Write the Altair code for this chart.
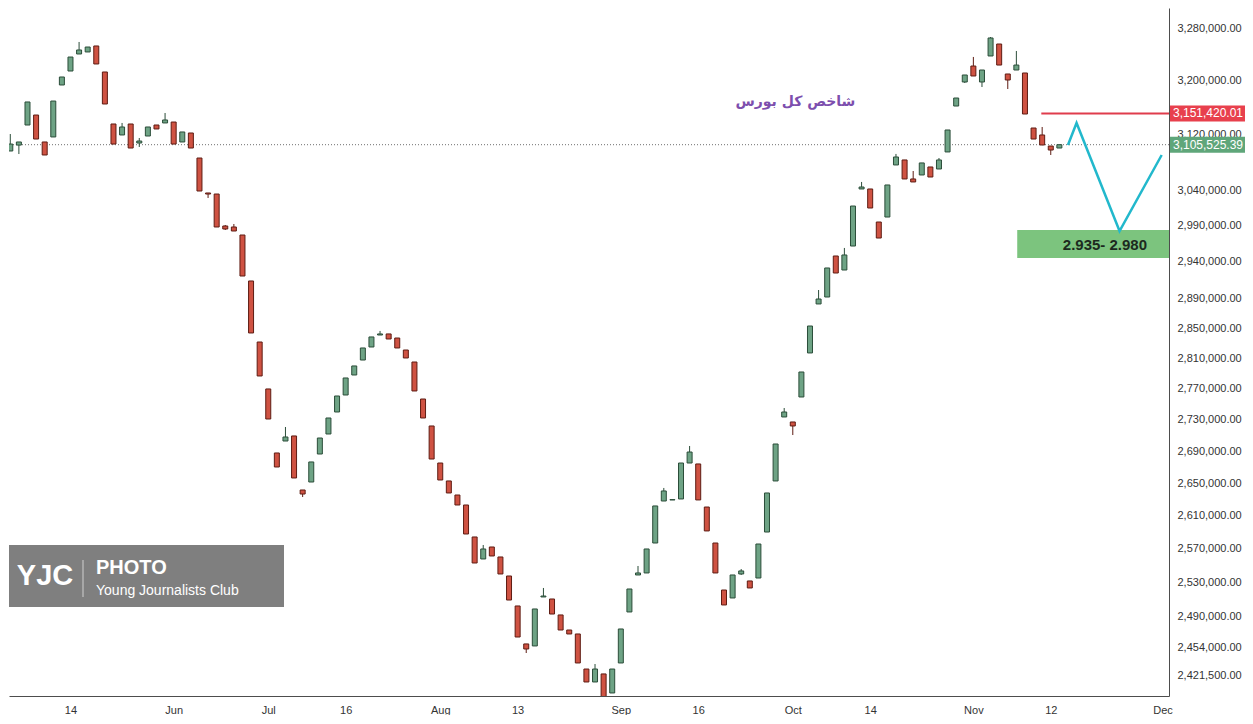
import altair as alt
import pandas as pd

# ---------------- data ----------------
opens = [
    3092000, 3096400, 3105000, 3134300, 3149000, 3109500, 3116800, 3193600, 3214600, 3240300,
    3243400, 3252500, 3213100, 3135800, 3119700, 3135800, 3108000, 3118200, 3134300, 3137300,
    3138700, 3109500, 3122600, 3086200, 3036100, 3034600, 2989500, 2988100, 2976900, 2913500,
    2831400, 2769800, 2688000, 2703100, 2709500, 2641800, 2651700, 2686700, 2712000, 2740100,
    2762000, 2788000, 2807600, 2824800, 2840700, 2842100, 2836700, 2820800, 2805000, 2756800,
    2722200, 2675400, 2653000, 2635600, 2623300, 2584300, 2557800, 2572200, 2560200, 2537500,
    2502100, 2458000, 2455700, 2512700, 2510300, 2491600, 2474100, 2469500, 2429300, 2414600,
    2423700, 2402200, 2436200, 2495100, 2538700, 2541100, 2577000, 2628200, 2629500, 2630700,
    2675400, 2674200, 2620800, 2577000, 2520900, 2511500, 2539900, 2531600, 2535100, 2590300,
    2653000, 2733700, 2727300, 2759400, 2816900, 2882300, 2891700, 2947800, 2928500, 2961600,
    3041800, 3041800, 2995100, 3002100, 3076200, 3083400, 3056100, 3061800, 3073300, 3070400,
    3095000, 3162300, 3198100, 3222100, 3198100, 3237300, 3255500, 3210100, 3216100, 3211600,
    3129900, 3119700, 3103600, 3100700,
]
closes = [
    3086200, 3106500, 3109500, 3168300, 3113800, 3090600, 3169700, 3205600, 3235700, 3246400,
    3250900, 3225200, 3165300, 3106500, 3131400, 3100700, 3110900, 3131400, 3128500, 3141700,
    3106500, 3124100, 3100700, 3038900, 3034600, 2988100, 2985300, 2982500, 2920300, 2843400,
    2786700, 2731100, 2670400, 2708200, 2656700, 2636800, 2676700, 2706900, 2732400, 2760700,
    2784100, 2799800, 2823500, 2838100, 2842100, 2835400, 2823500, 2810300, 2767200, 2732400,
    2680400, 2654200, 2638100, 2623300, 2587900, 2553000, 2569800, 2561400, 2539900, 2509100,
    2466000, 2452200, 2498600, 2513800, 2492700, 2474100, 2469500, 2436200, 2414600, 2429300,
    2393000, 2429300, 2475300, 2522100, 2541100, 2569800, 2622100, 2640600, 2629900, 2675400,
    2689200, 2629500, 2591600, 2541100, 2503300, 2538700, 2543500, 2523300, 2575800, 2638100,
    2699300, 2740100, 2722200, 2791900, 2852700, 2889000, 2931300, 2924400, 2949200, 3017600,
    3044600, 3014800, 2972700, 3047500, 3087700, 3056100, 3051800, 3079100, 3058900, 3083400,
    3127000, 3174200, 3208600, 3207100, 3216100, 3264700, 3223600, 3201100, 3223600, 3150500,
    3113800, 3105100, 3097800, 3105525.39,
]
# candles that show a visible wick beyond the body
wick_highs = {1: 3121100, 9: 3258600, 14: 3137300, 16: 3115300, 19: 3152000, 26: 2990900,
              27: 2992300, 33: 2720900, 44: 2846100, 56: 2574600, 63: 2523300, 69: 2435000,
              74: 2549400, 77: 2644300, 80: 2696800, 86: 2545800, 91: 2745200, 95: 2901200,
              98: 2958900, 100: 3051800, 104: 3092100, 106: 3067500, 109: 3086200,
              113: 3235800, 115: 3266200, 118: 3244900, 121: 3131400}
wick_lows = {2: 3092000, 16: 3102200, 24: 3029000, 26: 2983900, 35: 2633100, 61: 2447600,
             86: 2538700, 92: 2710700, 112: 3196600, 114: 3190600, 117: 3187600, 122: 3090600}

y_ticks = [3280000, 3200000, 3120000, 3040000, 2990000, 2940000, 2890000, 2850000,
           2810000, 2770000, 2730000, 2690000, 2650000, 2610000, 2570000, 2530000,
           2490000, 2454000, 2421500]
x_tick_pos = [8, 20, 31, 40, 51, 60, 72, 81, 92, 101, 113, 122, 135]
x_tick_text = ["14", "Jun", "Jul", "16", "Aug", "13", "Sep", "16", "Oct", "14", "Nov", "12", "Dec"]

last_price = 3105525.39
resistance = 3151420.01
resistance_start = 120.9
zone_start = 118.1
zone_low, zone_high = 2945000, 2983900
zone_text = "2.935- 2.980"
zone_text_pos = (128.3, 2963000)
zig_idx = [124, 125, 130, 134.9]
zig_val = [3105100, 3137250, 2982500, 3090570]
title_text = "شاخص کل بورس"
title_pos = (92.3, 3168250)

# ---------------- layout ----------------
W, H = 1160, 688
X_DOMAIN = [0.85, 135.75]
Y_DOMAIN = [2398800, 3310870]
GREEN, RED = "#6ea385", "#cf5242"
GREEN_EDGE, RED_EDGE = "#2b4d39", "#5e1c13"

rows = []
for i, (o, c) in enumerate(zip(opens, closes)):
    rows.append({
        "idx": i, "open": o, "close": c,
        "high": max(o, c, wick_highs.get(i, 0)),
        "low": min(o, c, wick_lows.get(i, 10**9)),
        "dir": "up" if c >= o else "down",
    })
candles = pd.DataFrame(rows)

xs = alt.Scale(domain=X_DOMAIN, nice=False, zero=False, padding=0)
ys = alt.Scale(type="log", domain=Y_DOMAIN, nice=False, padding=0)
dir_stroke = alt.Stroke("dir:N", scale=alt.Scale(domain=["up", "down"], range=[GREEN_EDGE, RED_EDGE]), legend=None)
dir_fill = alt.Fill("dir:N", scale=alt.Scale(domain=["up", "down"], range=[GREEN, RED]), legend=None)

label_expr = "[" + ",".join("'%s'" % t for t in x_tick_text) + "][indexof([" + \
    ",".join(str(p) for p in x_tick_pos) + "], datum.value)]"

x_axis = alt.Axis(values=x_tick_pos, labelExpr=label_expr, title=None, grid=False, ticks=False,
                  labelPadding=8, labelFont="Liberation Sans", labelFontSize=11, labelColor="#333333",
                  domainColor="#4d4d4d", labelFlush=False)
y_axis = alt.Axis(orient="right", values=y_ticks, format=",.2f", title=None, grid=False, ticks=False,
                  labelPadding=8, labelFont="Liberation Sans", labelFontSize=11, labelColor="#333333",
                  domainColor="#4d4d4d")

base = alt.Chart(candles)

last_line = alt.Chart(pd.DataFrame({"v": [last_price]})).mark_rule(
    color="#6f6f6f", strokeDash=[1, 2], strokeWidth=1
).encode(y=alt.Y("v:Q", scale=ys, axis=y_axis))

zone = alt.Chart(pd.DataFrame({"x0": [zone_start], "x1": [X_DOMAIN[1]], "lo": [zone_low], "hi": [zone_high]})).mark_rect(
    color="#7cc47e"
).encode(x=alt.X("x0:Q", scale=xs, axis=x_axis), x2="x1:Q", y=alt.Y("hi:Q", scale=ys), y2="lo:Q")

zone_label = alt.Chart(pd.DataFrame({"x": [zone_text_pos[0]], "v": [zone_text_pos[1]], "t": [zone_text]})).mark_text(
    font="Liberation Sans", fontSize=15, fontWeight="bold", color="#1c2a1e"
).encode(x=alt.X("x:Q", scale=xs), y=alt.Y("v:Q", scale=ys), text="t:N")

res_line = alt.Chart(pd.DataFrame({"x0": [resistance_start], "x1": [X_DOMAIN[1]], "v": [resistance]})).mark_rule(
    color="#e03c4c", strokeWidth=2
).encode(x=alt.X("x0:Q", scale=xs), x2="x1:Q", y=alt.Y("v:Q", scale=ys))

wicks = base.mark_rule(strokeWidth=1, clip=True).encode(
    x=alt.X("idx:Q", scale=xs), y=alt.Y("low:Q", scale=ys), y2="high:Q", stroke=dir_stroke)

bodies = base.mark_bar(size=5, strokeWidth=1, clip=True).encode(
    x=alt.X("idx:Q", scale=xs), y=alt.Y("open:Q", scale=ys), y2="close:Q",
    fill=dir_fill, stroke=dir_stroke)

zig = alt.Chart(pd.DataFrame({"x": zig_idx, "v": zig_val, "o": list(range(len(zig_idx)))})).mark_line(
    color="#22b8cc", strokeWidth=2.5
).encode(x=alt.X("x:Q", scale=xs), y=alt.Y("v:Q", scale=ys), order="o:Q")

title = alt.Chart(pd.DataFrame({"x": [title_pos[0]], "v": [title_pos[1]], "t": [title_text]})).mark_text(
    font="DejaVu Sans", fontSize=14, fontWeight="bold", color="#7d4fae"
).encode(x=alt.X("x:Q", scale=xs), y=alt.Y("v:Q", scale=ys), text="t:N")

# price tags on the right axis
tags = pd.DataFrame({
    "v": [resistance, last_price],
    "t": ["3,151,420.01", "3,105,525.39"],
    "c": ["res", "last"],
})
tag_scale = alt.Scale(domain=["res", "last"], range=["#e8404d", "#5fa67a"])
tag_box = alt.Chart(tags).mark_tick(orient="horizontal", size=75, thickness=16, opacity=1).encode(
    x=alt.value(W + 38.5), y=alt.Y("v:Q", scale=ys), color=alt.Color("c:N", scale=tag_scale, legend=None))
tag_text = alt.Chart(tags).mark_text(font="Liberation Sans", fontSize=12, color="white").encode(
    x=alt.value(W + 39), y=alt.Y("v:Q", scale=ys), text="t:N")

# YJC watermark
one = pd.DataFrame({"a": [0]})
logo_box = alt.Chart(one).mark_rect(color="#7f7f7f").encode(
    x=alt.value(0), x2=alt.value(275), y=alt.value(537), y2=alt.value(599))
logo_div = alt.Chart(one).mark_rule(color="#b5b5b5", strokeWidth=1.5).encode(
    x=alt.value(74), y=alt.value(552), y2=alt.value(589))
logo_yjc = alt.Chart(pd.DataFrame({"t": ["YJC"]})).mark_text(
    font="Liberation Sans", fontSize=29, fontWeight="bold", color="white", align="center", baseline="middle"
).encode(x=alt.value(36), y=alt.value(568), text="t:N")
logo_photo = alt.Chart(pd.DataFrame({"t": ["PHOTO"]})).mark_text(
    font="Liberation Sans", fontSize=20, fontWeight="bold", color="white", align="left", baseline="middle"
).encode(x=alt.value(87), y=alt.value(560), text="t:N")
logo_club = alt.Chart(pd.DataFrame({"t": ["Young Journalists Club"]})).mark_text(
    font="Liberation Sans", fontSize=14, color="white", align="left", baseline="middle"
).encode(x=alt.value(87), y=alt.value(583), text="t:N")

chart = alt.layer(
    zone, last_line, res_line, wicks, bodies, zig, zone_label, title,
    tag_box, tag_text, logo_box, logo_div, logo_yjc, logo_photo, logo_club,
).properties(
    width=W, height=H, padding=0, background="white"
).configure_view(strokeWidth=0)

chart.save("out.html", embed_options={"renderer": "svg", "actions": False})
